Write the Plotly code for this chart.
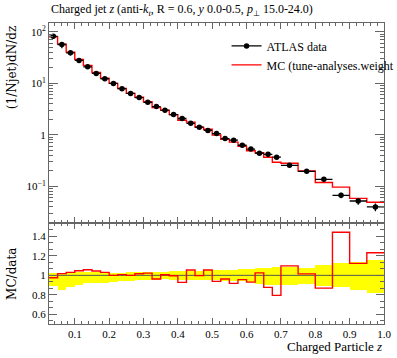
import plotly.graph_objects as go

# ---- data -------------------------------------------------------------
bin_edges = [0.025, 0.05, 0.075, 0.1, 0.125, 0.15, 0.175, 0.2, 0.225, 0.25,
             0.275, 0.3, 0.325, 0.35, 0.375, 0.4, 0.425, 0.45, 0.475, 0.5,
             0.525, 0.55, 0.575, 0.6, 0.625, 0.65, 0.675, 0.7, 0.75, 0.8,
             0.85, 0.9, 0.95, 1.0]

data_vals = [82, 57, 39.3, 28, 21, 15.6, 12.3, 10.0, 7.9, 6.4,
             5.3, 4.3, 3.55, 3.0, 2.48, 2.08, 1.68, 1.41, 1.22, 1.06,
             0.85, 0.79, 0.63, 0.53, 0.44, 0.42, 0.37, 0.256, 0.196, 0.137,
             0.067, 0.052, 0.040]

mc_vals = [80.0, 58.0, 40.5, 29.3, 22.2, 16.3, 12.67, 10.0, 7.96, 6.4,
           5.39, 4.40, 3.415, 3.02, 2.47, 1.93, 1.772, 1.406, 1.287, 0.994,
           0.818, 0.725, 0.602, 0.493, 0.451, 0.368, 0.294, 0.281, 0.199, 0.119,
           0.0967, 0.0584, 0.0493]

band_up = [1.02, 1.02, 1.03, 1.03, 1.035, 1.035, 1.03, 1.024, 1.027, 1.031,
           1.031, 1.034, 1.034, 1.034, 1.041, 1.041, 1.048, 1.048, 1.055, 1.055,
           1.055, 1.058, 1.065, 1.065, 1.072, 1.072, 1.082, 1.089, 1.075, 1.103,
           1.126, 1.133, 1.157]
band_lo = [0.89, 0.846, 0.884, 0.904, 0.918, 0.925, 0.925, 0.935, 0.938, 0.945,
           0.948, 0.952, 0.956, 0.959, 0.956, 0.956, 0.952, 0.949, 0.949, 0.949,
           0.945, 0.945, 0.938, 0.935, 0.915, 0.904, 0.897, 0.904, 0.915, 0.894,
           0.880, 0.846, 0.819]

x_tick_vals = [0.1, 0.2, 0.3, 0.4, 0.5, 0.6, 0.7, 0.8, 0.9, 1.0]
x_tick_text = ["0.1", "0.2", "0.3", "0.4", "0.5", "0.6", "0.7", "0.8", "0.9", "1.0"]
y_tick_vals = [0.1, 1, 10, 100]
y_tick_text = ["10<sup>\u22121</sup>", "1", "10<sup>1</sup>", "10<sup>2</sup>"]
r_tick_vals = [0.6, 0.8, 1.0, 1.2, 1.4]
r_tick_text = ["0.6", "0.8", "1", "1.2", "1.4"]

# ---- derived ----------------------------------------------------------
centers = [(a + b) / 2 for a, b in zip(bin_edges[:-1], bin_edges[1:])]
half_w = [(b - a) / 2 for a, b in zip(bin_edges[:-1], bin_edges[1:])]
widths = [(b - a) for a, b in zip(bin_edges[:-1], bin_edges[1:])]
ratio = [m / d for m, d in zip(mc_vals, data_vals)]
err_plus = [d * (u - 1) for d, u in zip(data_vals, band_up)]
err_minus = [d * (1 - l) for d, l in zip(data_vals, band_lo)]

mc_step_y = mc_vals + [mc_vals[-1]]
ratio_step_y = ratio + [ratio[-1]]

FONT = "Liberation Serif"
LFONT = "DejaVu Serif"
AX = "#666666"

fig = go.Figure()

fig.add_trace(go.Scatter(x=bin_edges, y=mc_step_y, mode="lines",
                         line=dict(color="#ff0000", width=1.4, shape="hv"),
                         xaxis="x", yaxis="y", showlegend=False))
fig.add_trace(go.Scatter(x=centers, y=data_vals, mode="markers",
                         marker=dict(color="black", size=5.5),
                         error_x=dict(type="data", array=half_w, width=0,
                                      color="black", thickness=1.3),
                         error_y=dict(type="data", array=err_plus, arrayminus=err_minus,
                                      width=0, color="black", thickness=1.3),
                         xaxis="x", yaxis="y", showlegend=False))
fig.add_trace(go.Scatter(x=[None], y=[None], mode="lines+markers", name="ATLAS data",
                         marker=dict(color="black", size=5.5),
                         line=dict(color="black", width=1.3),
                         xaxis="x", yaxis="y"))
fig.add_trace(go.Scatter(x=[None], y=[None], mode="lines",
                         name="MC (tune-analyses.weight",
                         line=dict(color="#ff0000", width=1.2),
                         xaxis="x", yaxis="y"))

fig.add_trace(go.Bar(x=centers, y=[u - l for u, l in zip(band_up, band_lo)],
                     base=band_lo, width=widths,
                     marker=dict(color="#ffff00", line=dict(width=0)),
                     xaxis="x2", yaxis="y2", showlegend=False))
fig.add_trace(go.Scatter(x=[bin_edges[0], bin_edges[-1]], y=[1, 1], mode="lines",
                         line=dict(color="#555555", width=1),
                         xaxis="x2", yaxis="y2", showlegend=False))
fig.add_trace(go.Scatter(x=bin_edges, y=ratio_step_y, mode="lines",
                         line=dict(color="#ff0000", width=1.4, shape="hv"),
                         xaxis="x2", yaxis="y2", showlegend=False))

split = 0.334
minor_log = [m * 10 ** e for e in (-2, -1, 0, 1, 2) for m in range(2, 10)]

common_x = dict(range=[bin_edges[0], bin_edges[-1]], showline=True, linecolor=AX,
                linewidth=1, mirror="allticks", ticks="inside", ticklen=6,
                tickcolor=AX, tickvals=x_tick_vals, ticktext=x_tick_text,
                minor=dict(dtick=0.02, tick0=0, ticks="inside", ticklen=3,
                           tickcolor=AX, showgrid=False),
                showgrid=False, zeroline=False, automargin=False)

fig.update_layout(
    width=397, height=358,
    margin=dict(l=49, r=13, t=23, b=34, autoexpand=False),
    plot_bgcolor="white", paper_bgcolor="white",
    font=dict(family=FONT, size=11, color="black"),
    barmode="overlay", bargap=0,
    xaxis=dict(**common_x, anchor="y", domain=[0, 1], showticklabels=False),
    xaxis2=dict(**common_x, anchor="y2", domain=[0, 1], matches="x",
                tickfont=dict(size=11)),
    yaxis=dict(type="log", domain=[split, 1], anchor="x",
               range=[-1.72, 2.173], showline=True, linecolor=AX, linewidth=1,
               mirror="allticks", ticks="inside", ticklen=9, tickcolor=AX,
               tickvals=y_tick_vals, ticktext=y_tick_text,
               minor=dict(tickvals=minor_log, ticks="inside", ticklen=4,
                          tickcolor=AX, showgrid=False),
               showgrid=False, zeroline=False, tickfont=dict(size=11),
               automargin=False),
    yaxis2=dict(domain=[0, split], anchor="x2", range=[0.5, 1.533],
                showline=True, linecolor=AX, linewidth=1, mirror="allticks",
                ticks="inside", ticklen=8, tickcolor=AX,
                tickvals=r_tick_vals, ticktext=r_tick_text,
                minor=dict(dtick=0.2 / 3, tick0=0.6, ticks="inside", ticklen=4,
                           tickcolor=AX, showgrid=False),
                showgrid=False, zeroline=False, tickfont=dict(size=11),
                automargin=False),
    legend=dict(x=0.53, y=0.972, xanchor="left", yanchor="top",
                bgcolor="rgba(0,0,0,0)", font=dict(size=12, family=FONT),
                itemwidth=30, tracegroupgap=0),
    showlegend=True,
)

fig.add_annotation(text="Charged jet <i>z</i> (anti-<i>k</i><sub><i>t</i></sub>, R = 0.6, <i>y</i> 0.0-0.5, <i>p</i><sub>\u22a5</sub> 15.0-24.0)",
                   xref="paper", yref="paper", x=0, y=1.043, xanchor="left",
                   yanchor="middle", showarrow=False, font=dict(size=12, family=FONT))
fig.add_annotation(text="(1/Njet)dN/dz", xref="paper", yref="paper",
                   x=-0.11, y=0.995, xanchor="center", yanchor="top", textangle=-90,
                   showarrow=False, font=dict(size=12, family=LFONT))
fig.add_annotation(text="MC/data", xref="paper", yref="paper",
                   x=-0.11, y=split / 2, xanchor="center", yanchor="middle",
                   textangle=-90, showarrow=False, font=dict(size=12, family=LFONT))
fig.add_annotation(text="Charged Particle <i>z</i>", xref="paper", yref="paper",
                   x=1, y=-0.075, xanchor="right", yanchor="middle",
                   showarrow=False, font=dict(size=13, family=FONT))

# remove the page's default body margin so the figure sits at the window origin
fig.write_html("out.html",
               config={"displayModeBar": False, "staticPlot": True},
               post_script="document.body.style.margin='0';document.body.style.overflow='hidden';")
